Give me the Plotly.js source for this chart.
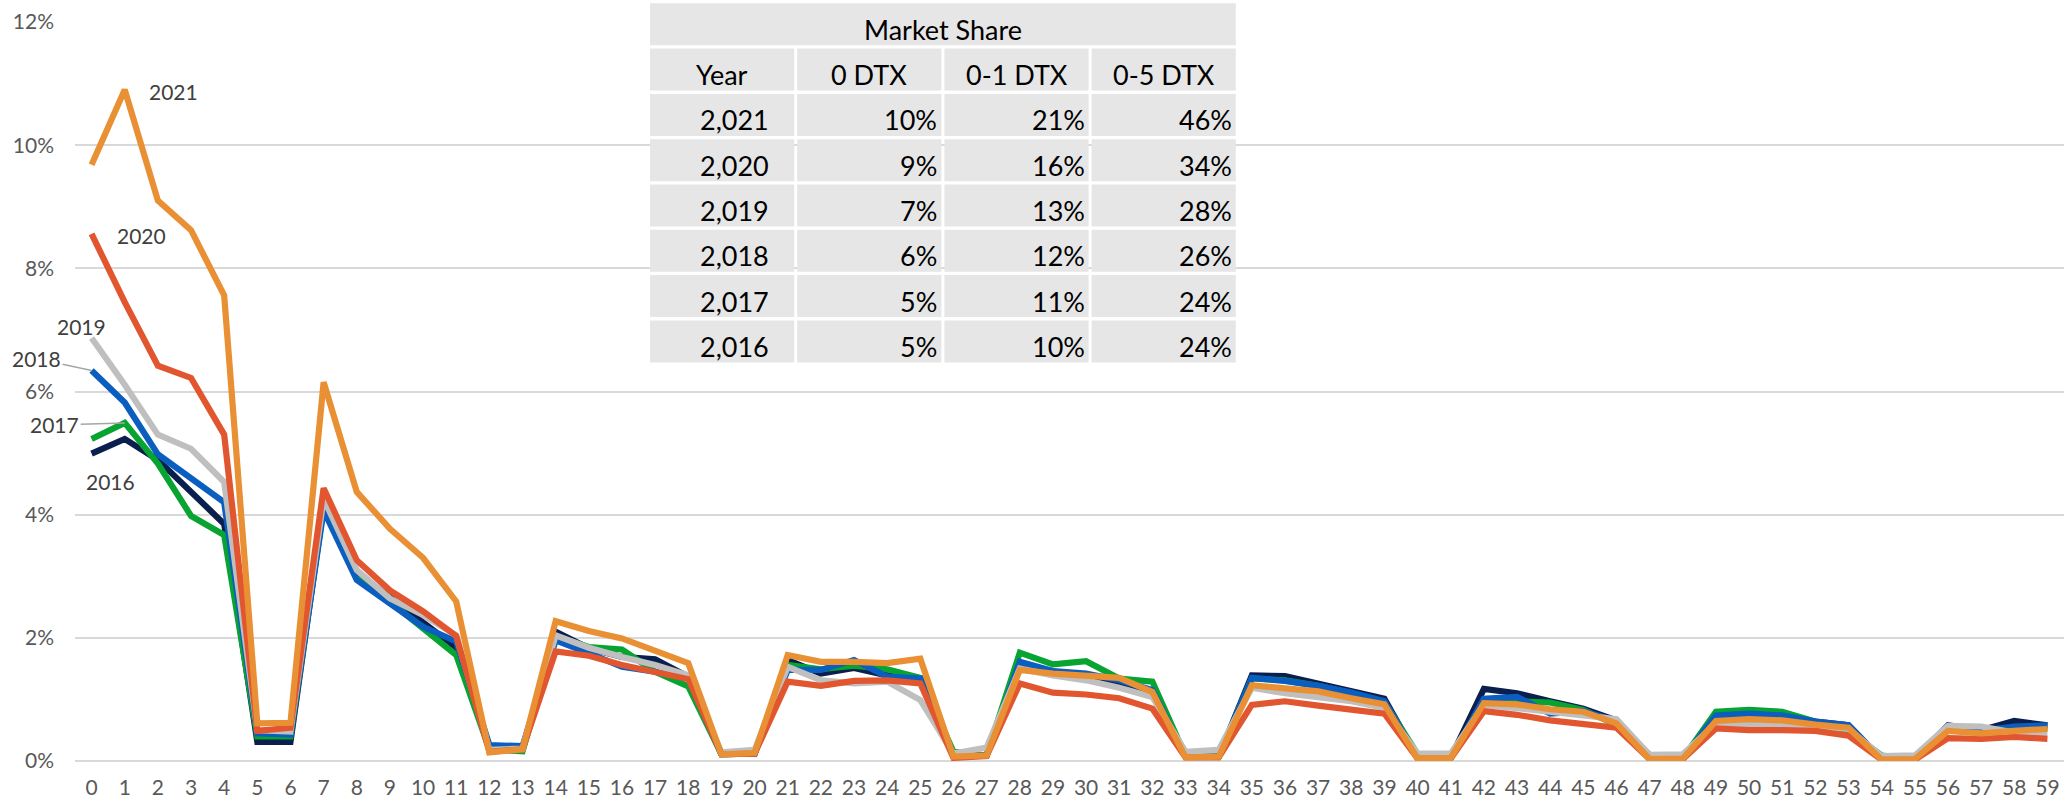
<!DOCTYPE html>
<html>
<head>
<meta charset="utf-8">
<script src="https://cdn.plot.ly/plotly-3.0.1.min.js"></script>
<style>
  html, body { margin: 0; padding: 0; background: #fff; }
  #chart { width: 2072px; height: 808px; }
</style>
</head>
<body>
<div id="chart"></div>
<script>
// days to expiry buckets on the x axis
const dtx = ["0","1","2","3","4","5","6","7","8","9","10","11","12","13","14","15","16","17","18","19",
  "20","21","22","23","24","25","26","27","28","29","30","31","32","33","34","35","36","37","38","39",
  "40","41","42","43","44","45","46","47","48","49","50","51","52","53","54","55","56","57","58","59"];

// share of volume, in percent
const s2016 = [4.99,5.23,4.89,4.37,3.85,0.31,0.31,4.15,3.04,2.66,2.26,1.84,0.21,0.19,2.10,1.83,1.69,1.65,1.37,0.11,
  0.12,1.64,1.42,1.51,1.39,1.34,0.07,0.09,1.58,1.45,1.39,1.23,1.12,0.07,0.07,1.39,1.38,1.26,1.15,1.01,
  0.05,0.05,1.17,1.10,0.97,0.85,0.66,0.04,0.04,0.74,0.75,0.73,0.64,0.58,0.03,0.03,0.58,0.50,0.65,0.58];
const s2017 = [5.23,5.49,4.83,3.98,3.67,0.40,0.40,4.15,3.02,2.58,2.15,1.72,0.19,0.16,2.02,1.85,1.81,1.45,1.21,0.11,
  0.12,1.56,1.49,1.55,1.49,1.35,0.15,0.09,1.76,1.57,1.62,1.34,1.29,0.08,0.07,1.34,1.31,1.22,1.10,0.96,
  0.11,0.05,0.99,0.97,0.95,0.83,0.59,0.10,0.04,0.80,0.83,0.80,0.65,0.48,0.09,0.03,0.53,0.47,0.52,0.54];
const s2018 = [6.34,5.82,4.98,4.60,4.20,0.45,0.43,4.07,2.94,2.56,2.18,1.94,0.26,0.24,1.96,1.75,1.53,1.45,1.34,0.11,
  0.12,1.48,1.48,1.64,1.37,1.34,0.07,0.09,1.61,1.46,1.42,1.31,1.15,0.07,0.07,1.35,1.30,1.22,1.11,0.97,
  0.05,0.05,1.01,1.04,0.77,0.81,0.65,0.04,0.04,0.74,0.77,0.74,0.64,0.58,0.03,0.03,0.56,0.49,0.56,0.58];
const s2019 = [6.87,6.11,5.30,5.07,4.53,0.50,0.48,4.26,3.10,2.64,2.37,2.04,0.18,0.20,2.04,1.84,1.69,1.56,1.39,0.14,
  0.18,1.53,1.31,1.26,1.29,0.99,0.12,0.22,1.50,1.39,1.31,1.19,1.04,0.15,0.18,1.19,1.10,1.03,0.97,0.86,
  0.12,0.12,0.91,0.86,0.81,0.74,0.68,0.10,0.11,0.61,0.59,0.58,0.56,0.52,0.08,0.09,0.57,0.56,0.46,0.45];
const s2020 = [8.56,7.45,6.42,6.22,5.30,0.49,0.54,4.43,3.26,2.77,2.43,2.03,0.15,0.19,1.78,1.71,1.56,1.45,1.33,0.11,
  0.12,1.29,1.22,1.30,1.31,1.26,0.05,0.08,1.26,1.11,1.08,1.02,0.85,0.06,0.06,0.91,0.97,0.90,0.83,0.77,
  0.04,0.04,0.81,0.75,0.66,0.59,0.54,0.03,0.03,0.53,0.50,0.50,0.49,0.41,0.02,0.02,0.37,0.36,0.39,0.36];
const s2021 = [9.68,10.90,9.10,8.62,7.56,0.61,0.62,6.15,4.37,3.77,3.30,2.59,0.14,0.19,2.27,2.11,1.99,1.80,1.59,0.11,
  0.13,1.72,1.61,1.61,1.59,1.66,0.07,0.09,1.48,1.42,1.38,1.35,1.12,0.06,0.07,1.23,1.18,1.13,1.02,0.92,
  0.04,0.05,0.94,0.92,0.84,0.80,0.61,0.03,0.04,0.65,0.68,0.66,0.59,0.54,0.02,0.03,0.49,0.45,0.49,0.52];

// market share table
const tblYears = [2021, 2020, 2019, 2018, 2017, 2016];
const share0 = [10, 9, 7, 6, 5, 5];
const share01 = [21, 16, 13, 12, 11, 10];
const share05 = [46, 34, 28, 26, 24, 24];
const tblHeader = ["Year", "0 DTX", "0-1 DTX", "0-5 DTX"];

const series = [
  { name: "2016", y: s2016, color: "#0B1F4E" },
  { name: "2017", y: s2017, color: "#08A432" },
  { name: "2018", y: s2018, color: "#0A5EC0" },
  { name: "2019", y: s2019, color: "#BFBFBF" },
  { name: "2020", y: s2020, color: "#E2562F" },
  { name: "2021", y: s2021, color: "#E99034" }
];

const W = 2072, H = 808;
const M = { l: 75, r: 8, t: 22, b: 47 };
const FONT = "Lato, 'Open Sans', sans-serif";

// pixel -> paper helpers (for the table)
function px(x){ return (x - M.l) / (W - M.l - M.r); }
function py(y){ return (H - M.b - y) / (H - M.t - M.b); }

const traces = series.map(s => ({
  x: dtx, y: s.y,
  type: "scatter", mode: "lines", name: s.name,
  line: { color: s.color, width: 6.2 },
  hoverinfo: "skip"
}));

// series labels
const labFont = { family: FONT, size: 21, color: "#404040" };
const annotations = [
  { x: dtx[1], y: s2021[1], text: "2021", showarrow: false, xanchor: "left", xshift: 22, yshift: -2 },
  { x: dtx[0], y: s2020[0], text: "2020", showarrow: false, xanchor: "left", xshift: 23, yshift: -2 },
  { x: dtx[0], y: s2019[0], text: "2019", showarrow: false, xanchor: "center", xshift: -10, yshift: 11 },
  { x: dtx[0], y: s2018[0], text: "2018", showarrow: true, ax: -55, ay: -12,
    arrowhead: 0, arrowwidth: 1.5, arrowcolor: "#A6A6A6", standoff: 0 },
  { x: dtx[1], y: s2017[1], text: "2017", showarrow: true, ax: -70, ay: 2,
    arrowhead: 0, arrowwidth: 1.5, arrowcolor: "#A6A6A6", standoff: 0 },
  { x: dtx[0], y: s2016[0], text: "2016", showarrow: false, xanchor: "center", xshift: 19, yshift: -28 }
].map(a => Object.assign({ xref: "x", yref: "y", font: labFont }, a));

// table geometry (pixels)
const T = { left: 650, top: 3.3, colW: 144.2, gap: 3, rowH: 42, rowGap: 3.3 };
const fill = "#E7E6E6";
const shapes = [];
const tFont = { family: FONT, size: 27, color: "#000000" };

function cellBox(c, r){
  const x0 = T.left + c * (T.colW + T.gap);
  const y0 = T.top + r * (T.rowH + T.rowGap);
  return { x0, x1: x0 + T.colW, y0, y1: y0 + T.rowH };
}
function rect(x0, x1, y0, y1){
  shapes.push({ type: "rect", xref: "paper", yref: "paper", layer: "above",
    x0: px(x0), x1: px(x1), y0: py(y1), y1: py(y0),
    fillcolor: fill, line: { width: 0 } });
}
function cellText(text, c, r, align){
  const b = cellBox(c, r);
  const xx = align === "right" ? b.x1 - 2 : (b.x0 + b.x1) / 2;
  annotations.push({ xref: "paper", yref: "paper", showarrow: false,
    x: px(xx), y: py((b.y0 + b.y1) / 2 + 5), xanchor: align === "right" ? "right" : "center",
    yanchor: "middle", text: text, font: tFont });
}

// title row spans all columns
const tRight = T.left + 4 * T.colW + 3 * T.gap;
rect(T.left, tRight, T.top, T.top + T.rowH);
annotations.push({ xref: "paper", yref: "paper", showarrow: false,
  x: px((T.left + tRight) / 2), y: py(T.top + T.rowH / 2 + 5), xanchor: "center", yanchor: "middle",
  text: "Market Share", font: tFont });

for(let r = 1; r < 2 + tblYears.length; r++){
  for(let c = 0; c < 4; c++){
    const b = cellBox(c, r);
    rect(b.x0, b.x1, b.y0, b.y1);
  }
}
tblHeader.forEach((h, c) => cellText(h, c, 1, "center"));
tblYears.forEach((yr, i) => {
  const r = i + 2;
  const b = cellBox(0, r);
  annotations.push({ xref: "paper", yref: "paper", showarrow: false,
    x: px(b.x1 - 23), y: py((b.y0 + b.y1) / 2 + 5), xanchor: "right", yanchor: "middle",
    text: yr.toLocaleString("en-US"), font: tFont });
  cellText(share0[i] + "%", 1, r, "right");
  cellText(share01[i] + "%", 2, r, "right");
  cellText(share05[i] + "%", 3, r, "right");
});

const tickFont = { family: FONT, size: 21, color: "#595959" };

const layout = {
  width: W, height: H,
  margin: M,
  paper_bgcolor: "#ffffff",
  plot_bgcolor: "#ffffff",
  showlegend: false,
  xaxis: {
    type: "category",
    range: [-0.5, dtx.length - 0.5],
    showgrid: false, zeroline: false, showline: false,
    ticks: "", tickfont: tickFont, ticklabelstandoff: 12,
    tickangle: 0, fixedrange: true
  },
  yaxis: {
    range: [0, 12], dtick: 2, ticksuffix: "%",
    showgrid: true, gridcolor: "#D9D9D9", gridwidth: 2,
    zeroline: true, zerolinecolor: "#D9D9D9", zerolinewidth: 2,
    showline: false, ticks: "", tickfont: tickFont, ticklabelstandoff: 20,
    fixedrange: true
  },
  shapes, annotations
};

Plotly.newPlot("chart", traces, layout, { displayModeBar: false, staticPlot: true });
</script>
</body>
</html>
